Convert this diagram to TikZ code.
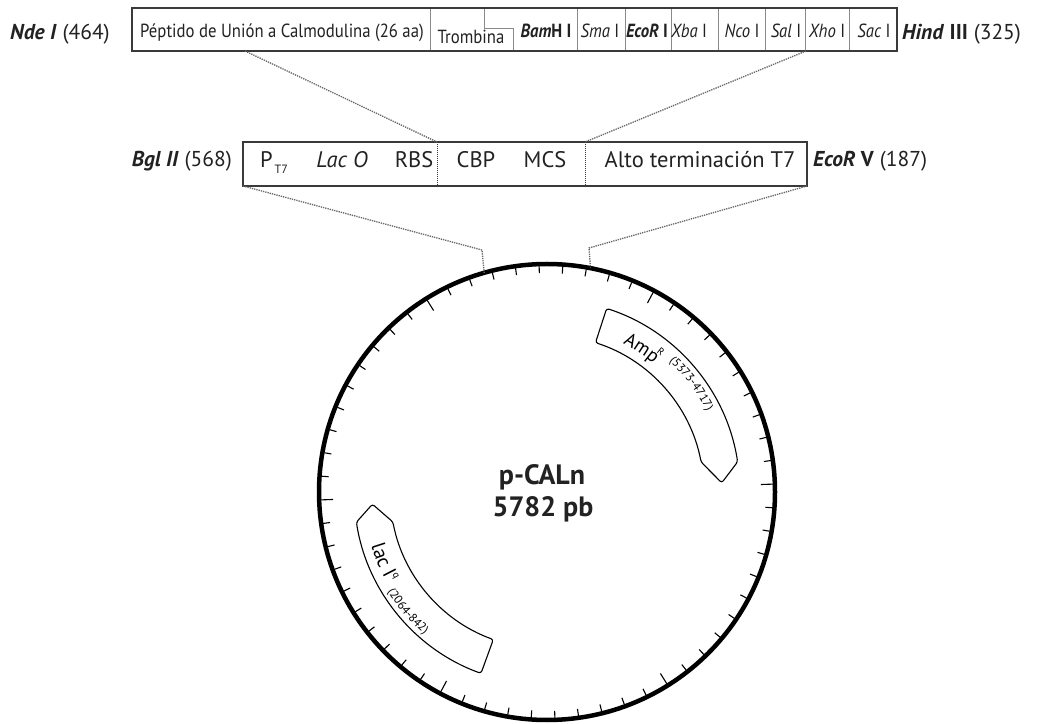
\documentclass[tikz,border=0pt]{standalone}
\usepackage{fontspec}
\setmainfont{PT Sans}
\newfontfamily\cond{PT Sans}[FakeStretch=0.88]
\usetikzlibrary{decorations.text,calc}
\definecolor{ink}{HTML}{222222}
\definecolor{frame}{HTML}{3A3A3A}
\definecolor{divg}{HTML}{8A8A8A}
\definecolor{dotg}{HTML}{666666}
\begin{document}
\begin{tikzpicture}[x=1pt,y=1pt,
  boxframe/.style={draw=frame, line width=1.3pt, inner sep=0pt, outer sep=0pt, anchor=north west},
  divline/.style={draw=divg, line width=0.8pt},
  dotline/.style={draw=dotg, line width=1.3pt, densely dotted},
  middiv/.style={draw=frame, line width=1pt, densely dotted},
  toptxt/.style={font=\cond\fontsize{19}{19}\selectfont, text=ink, inner sep=0pt, anchor=base},
  midtxt/.style={font=\fontsize{22.5}{22.5}\selectfont, text=ink, inner sep=0pt, anchor=base},
  sitelab/.style={font=\fontsize{21.5}{21.5}\selectfont, text=ink, inner sep=0pt},
  gene/.style={draw=black, line width=1.1pt, rounded corners=2.5pt, fill=white},
  ticksm/.style={draw=black, line width=1.1pt},
]
\useasboundingbox (0,0) rectangle (1044,723);
\fill[white] (0,0) rectangle (1044,723);

% ---------- top box ----------
\node[boxframe, minimum width=765pt, minimum height=43pt] (topbox) at (132,715) {};
\foreach \x in {430,577,625,671,718,765,805,849}
  \draw[divline] (\x,672) -- (\x,715);
\draw[divline] (484,715) -- (484,695) -- (513,695) -- (513,672);
\draw[draw=frame, line width=1.3pt] (topbox.south west) rectangle (topbox.north east);

\node[toptxt] (pep) at (282,685) {Péptido de Unión a Calmodulina (26 aa)};
\node[toptxt] (trb) at (471,679) {Trombina};
\node[toptxt] (bam) at (546,685) {\textbf{\textit{Bam}H I}};
\node[toptxt] (sma) at (600,685) {\textit{Sma} I};
\node[toptxt] (ecor1) at (647,685) {\textbf{\textit{EcoR} I}};
\node[toptxt] (xba) at (689,685) {\textit{Xba} I};
\node[toptxt] (nco) at (742,685) {\textit{Nco} I};
\node[toptxt] (sal) at (786,685) {\textit{Sal} I};
\node[toptxt] (xho) at (827,685) {\textit{Xho} I};
\node[toptxt] (sac) at (874,685) {\textit{Sac} I};

\node[sitelab, anchor=base west] (nde) at (10,683) {\textbf{\textit{Nde I}} (464)};
\node[sitelab, anchor=base west] (hind) at (902,683) {\textbf{\textit{Hind} III} (325)};

% ---------- middle box ----------
\node[boxframe, minimum width=564pt, minimum height=44pt] (midbox) at (243,581) {};
\coordinate (d1t) at (437,581); \coordinate (d1b) at (437,537);
\coordinate (d2t) at (585,581); \coordinate (d2b) at (585,537);
\draw[middiv] (d1t) -- (d1b);
\draw[middiv] (d2t) -- (d2b);

\node[midtxt] (p7) at (274,555) {P\kern2pt\raisebox{-6pt}{\fontsize{12}{12}\selectfont T7}};
\node[midtxt] (lac) at (342,555) {\textit{Lac O}};
\node[midtxt] (rbs) at (414,555) {RBS};
\node[midtxt] (cbp) at (476,555) {CBP};
\node[midtxt] (mcs) at (545,555) {MCS};
\node[midtxt] (alto) at (700,555) {Alto terminación T7};

\node[sitelab, anchor=base east] (bgl) at (232,556) {\textbf{\textit{Bgl II}} (568)};
\node[sitelab, anchor=base west] (ecorv) at (813,556) {\textbf{\textit{EcoR} V} (187)};

% ---------- connectors top -> middle ----------
\coordinate (tA) at (245,672);
\coordinate (tB) at (806,672);
\draw[dotline] (tA) -- (d1t);
\draw[dotline] (tB) -- (d2t);

% ---------- plasmid ----------
\node[circle, draw=black, line width=4.5pt, inner sep=0pt, outer sep=0pt, minimum size=456pt] (plasmid) at (547,231) {};
\begin{scope}[shift={(547,231)}]
  \foreach \i in {0,...,59}{
    \pgfmathtruncatemacro\m{mod(\i,10)}
    \ifnum\m=0
      \draw[ticksm] ({2+6*\i}:226) -- ({2+6*\i}:214);
    \else
      \draw[ticksm] ({2+6*\i}:226) -- ({2+6*\i}:219);
    \fi
  }
  % Amp R
  \draw[gene] (72:193) arc[start angle=72,end angle=9,radius=193] -- (3:175) -- (11:157) arc[start angle=11,end angle=72,radius=157] -- cycle;
  \path[decorate, decoration={text along path, text={|\fontsize{19}{19}\selectfont|Amp}}] (63:167) arc[start angle=63,end angle=30,radius=167];
  \path[decorate, decoration={text along path, text={|\fontsize{10}{10}\selectfont|R}}] (51.8:177) arc[start angle=51.8,end angle=30,radius=177];
  \path[decorate, decoration={text along path, text={|\fontsize{12}{12}\selectfont|(5373-4717)}}] (47:179) arc[start angle=47,end angle=5,radius=179];
  % lac Iq
  \draw[gene] (250:193) arc[start angle=250,end angle=189,radius=193] -- (184:175) -- (191:157) arc[start angle=191,end angle=250,radius=157] -- cycle;
  \path[decorate, decoration={text along path, text={|\fontsize{20}{20}\selectfont|lac I}}] (197:184) arc[start angle=197,end angle=240,radius=184];
  \path[decorate, decoration={text along path, text={|\fontsize{10}{10}\selectfont|q}}] (208:175) arc[start angle=208,end angle=240,radius=175];
  \path[decorate, decoration={text along path, text={|\fontsize{12}{12}\selectfont|(2064-842)}}] (212:188) arc[start angle=212,end angle=248,radius=188];
\end{scope}

\node[font=\bfseries\fontsize{28}{28}\selectfont, text=ink, inner sep=0pt, anchor=base] (name) at (542,238) {p-CALn};
\node[font=\bfseries\fontsize{28}{28}\selectfont, text=ink, inner sep=0pt, anchor=base] (size) at (543,206) {5782 pb};

% ---------- connectors middle -> plasmid ----------
\coordinate (kL) at (482,473);
\coordinate (kR) at (589,475);
\draw[dotline] (midbox.south west) -- (kL) -- (plasmid.106.6);
\draw[dotline] (midbox.south east) -- (kR) -- (plasmid.79.4);
\end{tikzpicture}
\end{document}
